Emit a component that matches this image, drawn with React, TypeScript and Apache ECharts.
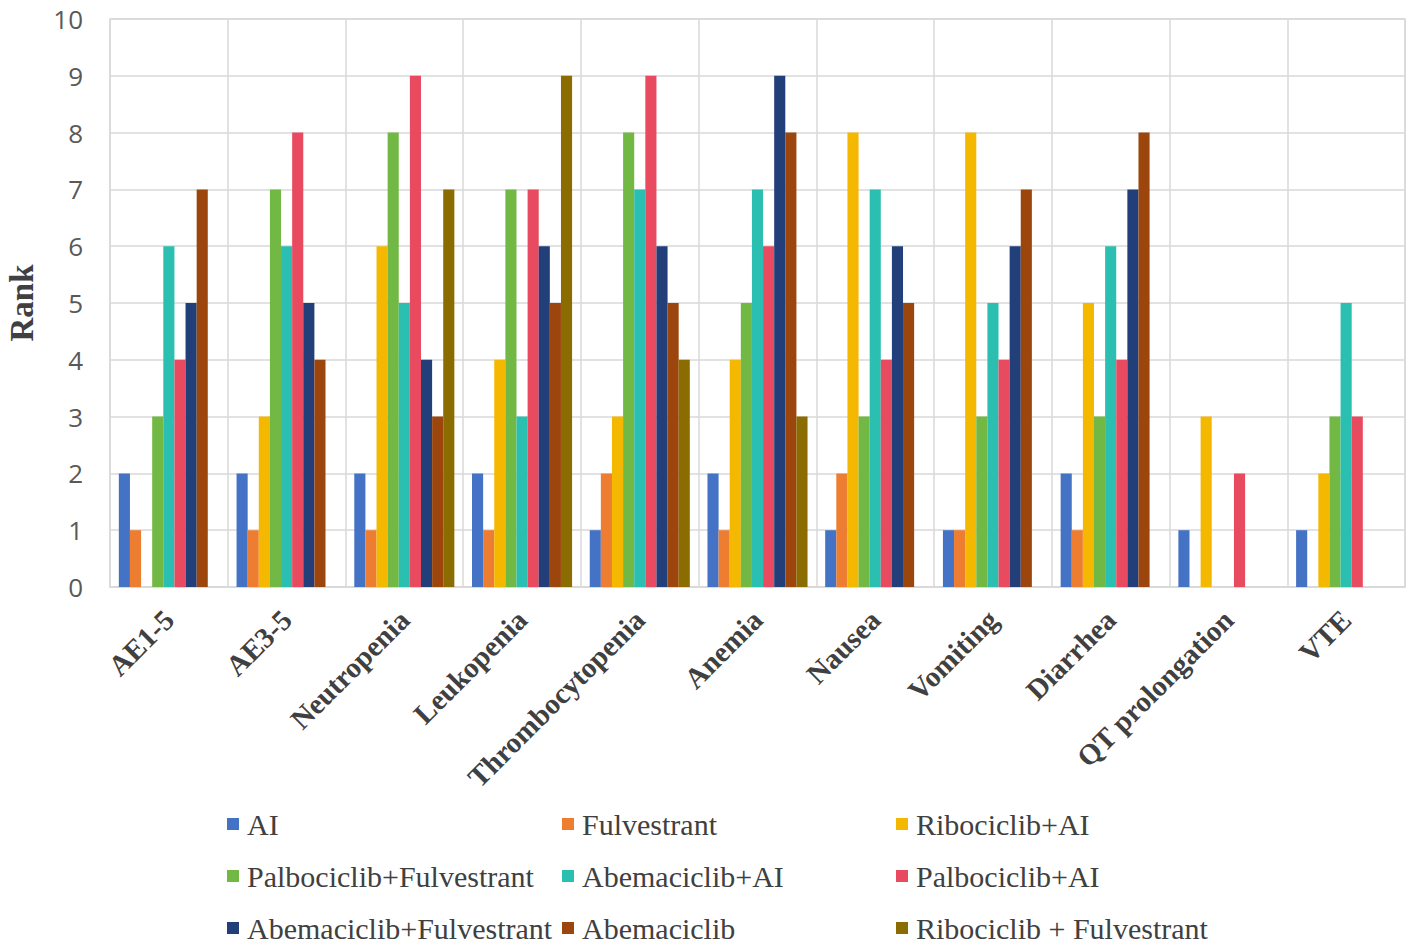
import React, { useEffect, useRef } from "react";
import * as echarts from "echarts";

const categories = ["AE1-5", "AE3-5", "Neutropenia", "Leukopenia", "Thrombocytopenia", "Anemia", "Nausea", "Vomiting", "Diarrhea", "QT prolongation", "VTE"];

const seriesNames = ["AI", "Fulvestrant", "Ribociclib+AI", "Palbociclib+Fulvestrant", "Abemaciclib+AI", "Palbociclib+AI", "Abemaciclib+Fulvestrant", "Abemaciclib", "Ribociclib + Fulvestrant"];

const colors = ["#4472C4", "#ED7D31", "#F5B800", "#72B844", "#2BBFB1", "#E84B60", "#223F7A", "#9C460E", "#8A6C00"];

const aiValues = [2, 2, 2, 2, 1, 2, 1, 1, 2, 1, 1];
const fulvestrantValues = [1, 1, 1, 1, 2, 1, 2, 1, 1, null, null];
const ribociclibAIValues = [null, 3, 6, 4, 3, 4, 8, 8, 5, 3, 2];
const palbociclibFulvValues = [3, 7, 8, 7, 8, 5, 3, 3, 3, null, 3];
const abemaciclibAIValues = [6, 6, 5, 3, 7, 7, 7, 5, 6, null, 5];
const palbociclibAIValues = [4, 8, 9, 7, 9, 6, 4, 4, 4, 2, 3];
const abemaciclibFulvValues = [5, 5, 4, 6, 6, 9, 6, 6, 7, null, null];
const abemaciclibValues = [7, 4, 3, 5, 5, 8, 5, 7, 8, null, null];
const ribociclibFulvValues = [null, null, 7, 9, 4, 3, null, null, null, null, null];

const allValues = [aiValues, fulvestrantValues, ribociclibAIValues, palbociclibFulvValues, abemaciclibAIValues, palbociclibAIValues, abemaciclibFulvValues, abemaciclibValues, ribociclibFulvValues];

const yTicks = [0, 1, 2, 3, 4, 5, 6, 7, 8, 9, 10];

export default function App() {
  const ref = useRef<HTMLDivElement>(null);
  useEffect(() => {
    document.body.style.margin = "0";
    if (!ref.current) return;
    const chart = echarts.init(ref.current, null, { renderer: "svg" });
    const legendCols = [227, 562, 896];
    const legendRows = [809, 861, 913];
    const legends = seriesNames.map((name, i) => ({
      show: true,
      data: [name],
      left: legendCols[i % 3],
      top: legendRows[Math.floor(i / 3)],
      orient: "horizontal",
      icon: "rect",
      itemWidth: 12,
      itemHeight: 12,
      itemGap: 4,
      padding: 0,
      selectedMode: false,
      textStyle: {
        fontFamily: "Liberation Serif",
        fontSize: 30,
        color: "#404040",
        padding: [0, 0, 0, 3],
      },
    }));
    chart.setOption({
      animation: false,
      color: colors,
      legend: legends,
      grid: {
        left: 110,
        right: 12,
        top: 19,
        bottom: 361,
        show: true,
        containLabel: false,
        outerBoundsMode: "none",
        borderColor: "#D9D9D9",
        borderWidth: 1.5,
      },
      xAxis: {
        type: "category",
        data: categories,
        axisTick: { show: false },
        axisLine: { lineStyle: { color: "#D9D9D9", width: 1.5 } },
        splitLine: { show: true, interval: 0, lineStyle: { color: "#D9D9D9", width: 1.5 } },
        axisLabel: {
          interval: 0,
          rotate: 45,
          margin: 28,
          fontFamily: "Liberation Serif",
          fontWeight: "bold",
          fontSize: 29,
          color: "#404040",
        },
      },
      yAxis: {
        type: "value",
        min: yTicks[0],
        max: yTicks[yTicks.length - 1],
        interval: 1,
        name: "Rank",
        nameLocation: "middle",
        nameGap: 72,
        nameRotate: 90,
        nameTextStyle: {
          fontFamily: "Liberation Serif",
          fontWeight: "bold",
          fontSize: 33,
          color: "#404040",
        },
        axisLine: { show: false },
        axisTick: { show: false },
        splitLine: { lineStyle: { color: "#D9D9D9", width: 1.5 } },
        axisLabel: {
          margin: 27,
          fontFamily: "Open Sans",
          fontSize: 26,
          color: "#595959",
        },
      },
      series: seriesNames.map((name, i) => ({
        name,
        type: "bar",
        data: allValues[i],
        barGap: "0%",
        barCategoryGap: "15%",
        itemStyle: { color: colors[i] },
      })),
    });
    return () => chart.dispose();
  }, []);
  return <div ref={ref} style={{ width: 1417, height: 948 }} />;
}
